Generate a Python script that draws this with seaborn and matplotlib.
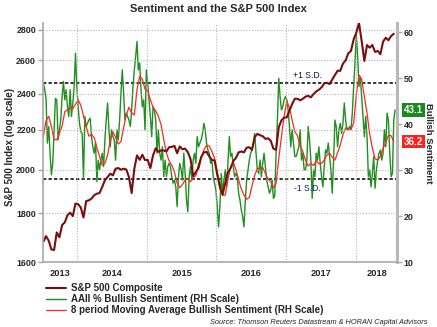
import matplotlib
matplotlib.use("Agg")
import numpy as np
import pandas as pd
import matplotlib.pyplot as plt
import matplotlib.dates as mdates
import matplotlib.ticker as mticker
import matplotlib.transforms as mtransforms
import seaborn as sns

# ---------------- data ----------------
sp500_start = "2013-07-09"      # bi-weekly samples
sentiment_start = "2013-07-09"  # weekly AAII samples

sp500 = [
    1681, 1704, 1685, 1650, 1648, 1719, 1699, 1750, 1761, 1792,
    1803, 1788, 1843, 1840, 1825, 1782, 1854, 1857, 1865, 1880,
    1887, 1890, 1918, 1949, 1964, 1980, 1972, 2004, 2007, 1999,
    2004, 2000, 1964, 1890,
    2004, 2069, 2047, 2072, 2046, 2047, 2007, 2069, 2105, 2087,
    2094, 2094, 2089, 2110, 2112, 2117, 2080, 2114, 2100, 2103,
    2085, 2052, 1969, 1988, 2007, 2061, 2084, 2087, 2064, 2047,
    2044, 1977, 1918,
    1883, 1936, 1986, 2007, 2041, 2057, 2084, 2089, 2084, 2108,
    2110, 2097, 2162, 2179, 2172, 2167, 2153, 2156, 2143, 2103,
    2097, 2214, 2251, 2266, 2267, 2304, 2341, 2371, 2371, 2362,
    2371, 2383, 2388,
    2379, 2398, 2413, 2423, 2437, 2460, 2464, 2456, 2484, 2511,
    2536, 2536, 2580, 2601, 2645, 2660, 2735, 2779, 2845, 2724,
    2597, 2698, 2681, 2698, 2654, 2660, 2639, 2720, 2746, 2729,
    2757, 2772,
]

bullish = [
    48.9, 47.5, 45.6, 35.9, 39.5, 33.7, 29.0, 31.5, 38.8, 45.6,
    45.3, 36.6, 38.8, 40.9, 46.0, 49.3, 45.3, 47.5, 43.8, 41.7,
    47.5, 41.7, 44.6, 48.2, 55.4, 48.2, 43.8, 40.2, 38.4, 38.0,
    28.2, 41.7, 39.5, 40.2, 40.9, 41.3, 37.3, 35.1, 33.7, 35.9,
    27.5, 32.2, 30.1, 32.2, 33.7, 30.8, 36.6, 40.9, 44.6, 38.8,
    35.1, 38.8, 37.3, 36.6, 32.2, 38.8, 36.6, 40.9, 46.7, 51.8,
    46.7, 40.9, 42.4, 41.7, 40.9, 39.5, 43.1,
    48.2, 51.8, 54.7, 58.0, 51.8, 53.3, 47.5, 43.8, 45.3, 38.8,
    51.8, 48.9, 45.3, 41.7, 37.3, 43.8, 43.1, 40.9, 33.7, 38.8,
    33.7, 32.2, 35.1, 28.6, 32.2, 28.6, 30.8, 31.5, 30.8, 28.6,
    27.2, 27.9, 26.4, 22.1, 28.6, 31.5, 30.1, 27.9, 33.7, 29.3,
    23.5, 21.0, 28.6, 30.8, 27.9, 32.2, 33.7, 31.5, 37.3, 35.1,
    35.9, 36.6, 38.0, 40.2, 38.8, 35.9, 34.4, 33.7, 31.5, 32.2,
    28.6, 27.2, 25.7, 22.1, 17.7, 22.1,
    29.3, 25.0, 27.9, 30.1, 26.4, 31.5, 37.3, 33.0, 33.7, 30.8,
    28.6, 29.3, 28.6, 25.0, 23.5, 21.4, 19.9, 17.7, 23.5, 27.9,
    30.1, 32.2, 33.7, 34.4, 35.9, 38.0, 33.7, 30.1, 29.3, 32.2,
    28.6, 31.5, 33.7, 30.8, 27.9, 26.4, 25.0, 25.7, 27.9, 23.9,
    24.3, 33.7, 40.9, 50.0, 46.0, 43.1, 43.8, 45.3, 46.0, 45.3,
    43.1, 39.5, 35.1, 38.8, 35.9, 33.0, 33.0, 34.0, 35.1, 38.8,
    32.2, 33.7, 30.1, 30.1, 32.2, 39.5,
    36.6, 32.2, 23.9, 30.1, 28.6, 33.7, 32.2, 35.1, 31.5, 28.6,
    26.4, 30.8, 34.4, 33.7, 35.9, 33.0, 30.1, 25.0, 32.2, 40.9,
    39.5, 35.1, 38.8, 40.2, 38.0, 40.2, 44.6, 40.9, 38.8, 38.8,
    39.5, 38.8, 42.4, 48.2, 53.3, 59.4, 54.7, 48.2, 50.3, 46.0,
    41.7, 37.3, 41.7, 37.3, 28.6, 30.1, 26.4, 29.3, 33.0, 26.1,
    30.1, 32.2, 33.7, 34.4, 32.2, 33.7, 38.8, 35.1, 42.4, 40.9,
    33.7, 28.6, 29.3, 40.9, 43.1,
]

bullish_ma8 = [
    37.3, 40.8, 41.7, 39.5, 36.7, 36.6, 38.0, 39.6, 42.7, 43.2,
    43.5, 43.4, 44.3, 45.3, 44.1, 41.8, 39.5, 37.4, 37.8, 37.1,
    34.9, 33.0, 31.1, 31.5, 33.3, 36.4, 38.3, 37.2, 35.7, 36.2,
    39.3, 42.0, 43.7, 42.5,
    42.0, 47.5, 50.4, 49.8, 47.6, 47.3, 45.3, 43.7, 42.9, 41.7,
    39.9, 36.7, 33.8, 32.0, 31.1, 29.6, 27.2, 26.2, 26.9, 27.9,
    28.1, 27.5, 28.5, 28.8, 31.4, 32.6, 34.4, 35.4, 35.3, 34.1,
    32.6, 29.7, 26.1,
    24.5, 24.6, 28.0, 30.6, 31.8, 30.1, 27.9, 25.9, 24.6, 23.7,
    24.1, 26.6, 28.9, 30.3, 30.5, 30.6, 29.3, 28.1, 27.5, 26.2,
    27.2, 32.5, 37.3, 41.7, 45.1, 43.5, 40.9, 38.4, 37.5, 35.3,
    34.0, 32.2, 30.9,
    31.5, 31.0, 32.1, 31.4, 31.5, 32.2, 33.3, 33.7, 32.8, 32.2,
    33.8, 35.5, 37.7, 39.2, 39.1, 38.9, 40.2, 46.4, 50.7, 49.8,
    46.0, 42.4, 37.9, 34.8, 32.5, 32.2, 33.0, 34.8, 36.0, 37.6,
    37.5, 36.2,
]

sd_plus = 49.0
sd_minus = 28.0
left_ticks = [1600, 1800, 2000, 2200, 2400, 2600, 2800]
right_ticks = [10, 20, 30, 40, 50, 60]
years = [2013, 2014, 2015, 2016, 2017, 2018]
series_labels = ["S&P 500 Composite",
                 "AAII % Bullish Sentiment (RH Scale)",
                 "8 period Moving Average Bullish Sentiment (RH Scale)"]

# ---------------- styling ----------------
SP_COLOR = "#7a0e0e"
GREEN = "#1f8f1f"
RED = "#ff2626"
GRID = "#b4b4b4"
SPINE = "#a8a8a8"

sns.set_theme(style="white")
plt.rcParams["font.family"] = ["Liberation Sans", "DejaVu Sans"]
plt.rcParams["font.weight"] = "bold"

sp_df = pd.DataFrame({"date": pd.date_range(sp500_start, periods=len(sp500), freq="14D"),
                      "value": sp500})
bull_df = pd.DataFrame({"date": pd.date_range(sentiment_start, periods=len(bullish), freq="7D"),
                        "value": bullish})
ma_df = pd.DataFrame({"date": pd.date_range(sentiment_start, periods=len(bullish_ma8), freq="14D"),
                      "value": bullish_ma8})

fig = plt.figure(figsize=(4.37, 3.27), dpi=100)
ax = fig.add_axes([0.0984, 0.1979, 0.8101, 0.7318])
ax2 = ax.twinx()
ax.set_zorder(ax2.get_zorder() + 1)
ax.patch.set_visible(False)

sns.lineplot(data=bull_df, x="date", y="value", ax=ax2, color=GREEN, lw=1.0,
             label=series_labels[1], legend=False)
sns.lineplot(data=ma_df, x="date", y="value", ax=ax2, color=RED, lw=0.9,
             label=series_labels[2], legend=False)
sns.lineplot(data=sp_df, x="date", y="value", ax=ax, color=SP_COLOR, lw=1.5,
             label=series_labels[0], legend=False)

# S.D. reference lines
for v in (sd_plus, sd_minus):
    ax2.axhline(v, color="black", lw=1.1, linestyle=(0, (2.2, 1.4)), zorder=1)
ax2.text(pd.Timestamp("2017-02-07"), 50.5, "+1 S.D.", fontsize=6.2, color="#0a1440",
         fontweight="normal", va="center", ha="left")
ax2.text(pd.Timestamp("2017-02-12"), 26.0, "-1 S.D.", fontsize=6.2, color="#0f2a6b",
         fontweight="normal", va="center", ha="left")

# left axis (log)
ax.set_yscale("log")
ax.set_ylim(1600, 2845)
ax.yaxis.set_major_locator(mticker.FixedLocator(left_ticks))
ax.yaxis.set_major_formatter(mticker.FuncFormatter(lambda v, p: f"{v:.0f}"))
ax.yaxis.set_minor_locator(mticker.NullLocator())
ax.set_ylabel("")
ax.set_xlabel("")

# right axis
ax2.set_ylim(10, 62)
ax2.set_yticks(right_ticks)
ax2.set_ylabel("")
ax2.set_xlabel("")

# x axis
xmin, xmax = pd.Timestamp("2013-07-07"), pd.Timestamp("2018-08-03")
ax.set_xlim(xmin, xmax)
bounds = [pd.Timestamp(f"{y}-01-01") for y in years[1:]]
ax.set_xticks(bounds)
ax.xaxis.set_major_formatter(mticker.NullFormatter())
edges = [xmin] + bounds + [xmax]
centers = [mdates.date2num(edges[i]) / 2 + mdates.date2num(edges[i + 1]) / 2
           for i in range(len(edges) - 1)]
ax.xaxis.set_minor_locator(mticker.FixedLocator(centers))
ax.xaxis.set_minor_formatter(mticker.FixedFormatter([str(y) for y in years]))
ax.tick_params(axis="x", which="minor", length=0, pad=4.5, labelsize=6.7)
ax.tick_params(axis="x", which="major", length=3, width=1, color=SPINE)
ax.tick_params(axis="y", which="major", length=3.5, width=1, color=SPINE, pad=1.5,
               labelsize=6.4)
ax2.tick_params(axis="y", which="major", length=3.5, width=1, color=SPINE, pad=1.5,
                labelsize=6.4)

ax.grid(True, which="major", axis="both", color=GRID, lw=0.8, linestyle=(0, (1, 1.5)))

for a in (ax, ax2):
    a.spines["top"].set_visible(False)
ax.spines["right"].set_visible(False)
ax2.spines["left"].set_visible(False)
ax2.spines["bottom"].set_visible(False)
ax.spines["left"].set_color(SPINE)
ax.spines["left"].set_linewidth(1.2)
ax.spines["bottom"].set_color(SPINE)
ax.spines["bottom"].set_linewidth(1.2)
ax2.spines["right"].set_color("#b8b8b8")
ax2.spines["right"].set_linewidth(2.2)

# value badges
btrans = mtransforms.blended_transform_factory(ax2.transAxes, ax2.transData)
ax2.text(1.02, bullish[-1], f"{bullish[-1]:.1f}", transform=btrans, fontsize=7,
         color="white", va="center", ha="left", clip_on=False,
         bbox=dict(boxstyle="square,pad=0.18", fc="#1a8a1a", ec="none"))
ax2.text(1.02, bullish_ma8[-1], f"{bullish_ma8[-1]:.1f}", transform=btrans, fontsize=7,
         color="white", va="center", ha="left", clip_on=False,
         bbox=dict(boxstyle="square,pad=0.18", fc="#ff2020", ec="none"))

# titles and labels
fig.text(0.501, 1 - 9 / 327, "Sentiment and the S&P 500 Index", ha="center", va="center",
         fontsize=8, fontweight="bold")
fig.text(10.5 / 437, 1 - 146.5 / 327, "S&P 500 Index (log scale)", rotation=90,
         ha="center", va="center", fontsize=7.0, fontweight="bold")
fig.text(428 / 437, 1 - 143 / 327, "Bullish Sentiment", rotation=270,
         ha="center", va="center", fontsize=6.8, fontweight="bold")

# legend
handles = [ax.lines[0], ax2.lines[0], ax2.lines[1]]
fig.legend(handles, series_labels, loc="upper left",
           bbox_to_anchor=(46 / 437, 1 - 283 / 327), frameon=False, fontsize=7,
           handlelength=2.1, handletextpad=0.5, labelspacing=0.12,
           borderpad=0, borderaxespad=0)

fig.text(428 / 437, 1 - 322 / 327,
         "Source: Thomson Reuters Datastream & HORAN Capital Advisors",
         ha="right", va="center", fontsize=5.3, style="italic", fontweight="normal",
         color="#222222")

fig.savefig("out.png", dpi=100)
